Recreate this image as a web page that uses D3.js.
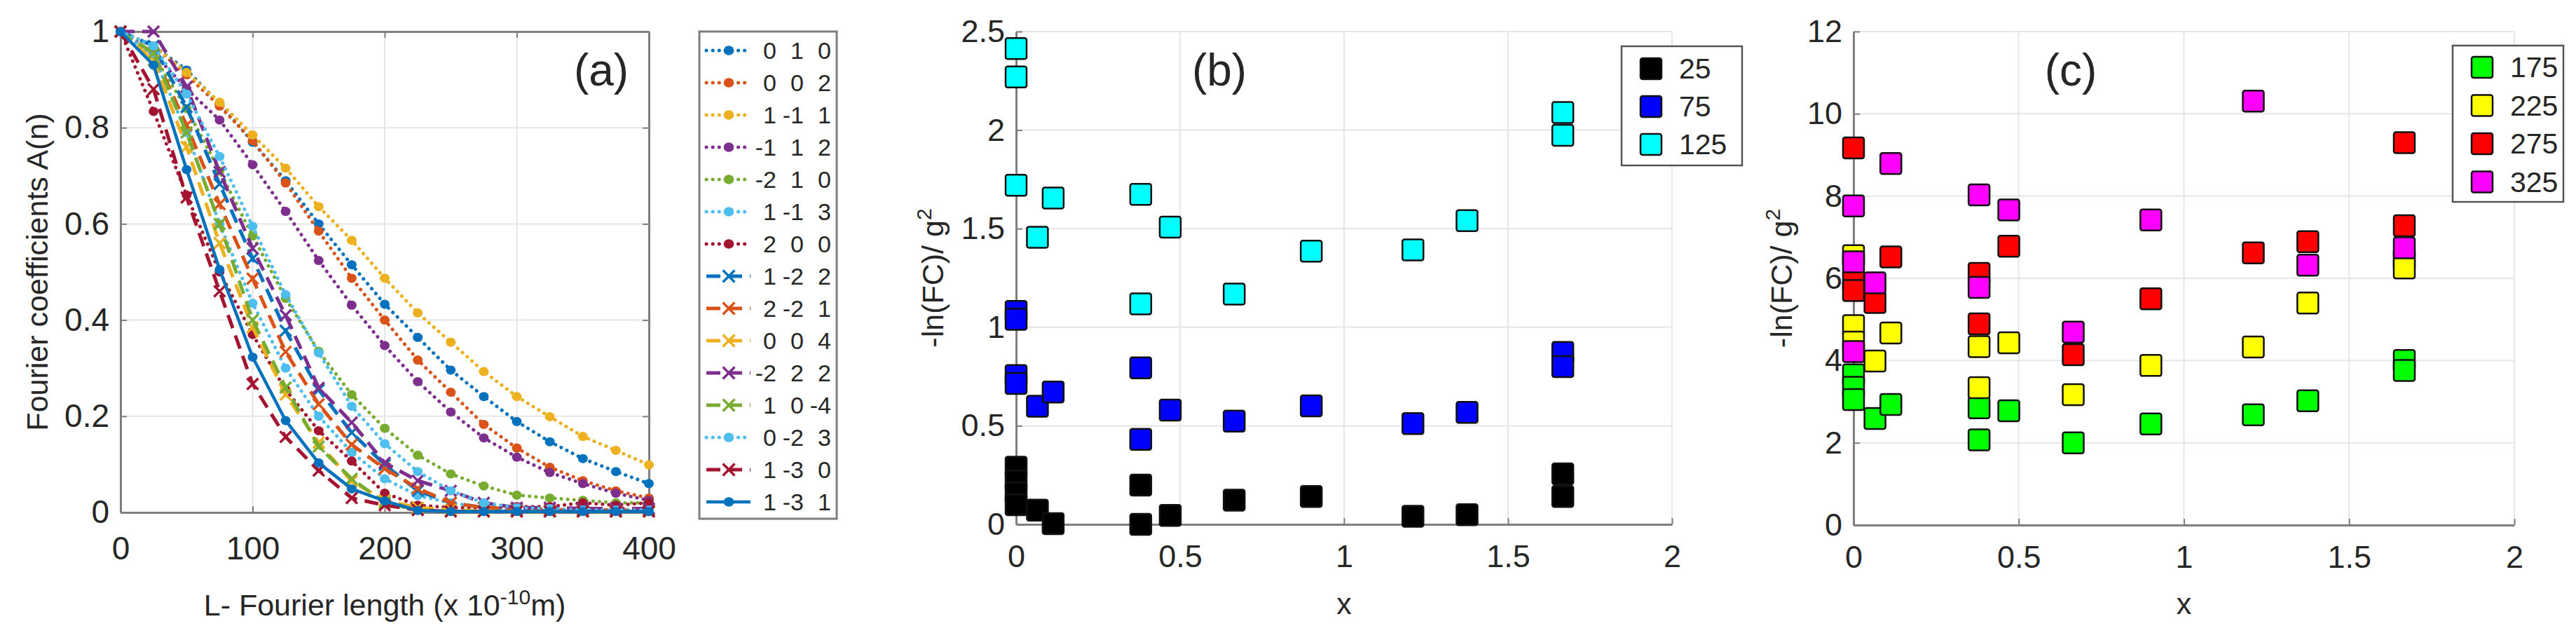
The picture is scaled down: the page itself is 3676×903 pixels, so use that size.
<!DOCTYPE html>
<html>
<head>
<meta charset="utf-8">
<script src="https://cdn.jsdelivr.net/npm/d3@7"></script>
<style>
  body { margin: 0; background: #fff; }
  svg { display: block; }
  text { font-family: "Liberation Sans", Arial, sans-serif; fill: #262626; }
</style>
</head>
<body>
<svg id="fig" width="3676" height="903"></svg>
<script>
// ---- panel (a): Fourier coefficients vs Fourier length ----
const fourierLength = [0, 25, 50, 75, 100, 125, 150, 175, 200, 225, 250, 275, 300, 325, 350, 375, 400];

const hklLabels = [
  ["0", "1", "0"], ["0", "0", "2"], ["1", "-1", "1"], ["-1", "1", "2"], ["-2", "1", "0"],
  ["1", "-1", "3"], ["2", "0", "0"], ["1", "-2", "2"], ["2", "-2", "1"], ["0", "0", "4"],
  ["-2", "2", "2"], ["1", "0", "-4"], ["0", "-2", "3"], ["1", "-3", "0"], ["1", "-3", "1"]
];

const coef010  = [1, 0.97, 0.92, 0.85, 0.77, 0.69, 0.60, 0.515, 0.433, 0.364, 0.296, 0.241, 0.189, 0.147, 0.112, 0.085, 0.060];
const coef002  = [1, 0.97, 0.91, 0.845, 0.773, 0.685, 0.585, 0.487, 0.40, 0.317, 0.25, 0.183, 0.134, 0.094, 0.066, 0.045, 0.03];
const coef1m11 = [1, 0.97, 0.915, 0.853, 0.785, 0.716, 0.636, 0.566, 0.487, 0.415, 0.354, 0.293, 0.241, 0.199, 0.158, 0.129, 0.099];
const coefm112 = [1, 0.955, 0.881, 0.816, 0.723, 0.626, 0.524, 0.431, 0.347, 0.272, 0.209, 0.155, 0.115, 0.083, 0.06, 0.04, 0.025];
const coefm210 = [1, 0.95, 0.84, 0.71, 0.575, 0.445, 0.335, 0.245, 0.175, 0.119, 0.08, 0.055, 0.036, 0.03, 0.025, 0.02, 0.02];
const coef1m13 = [1, 0.95, 0.79, 0.60, 0.435, 0.30, 0.20, 0.125, 0.07, 0.035, 0.02, 0.01, 0.005, 0.005, 0.003, 0.003, 0.003];
const coef200  = [1, 0.834, 0.66, 0.50, 0.37, 0.255, 0.17, 0.107, 0.04, 0.015, 0.01, 0.01, 0.012, 0.012, 0.02, 0.015, 0.02];
const coef1m22 = [1, 0.97, 0.843, 0.683, 0.528, 0.378, 0.255, 0.166, 0.099, 0.045, 0.02, 0.01, 0.005, 0.003, 0.002, 0.002, 0.002];
const coef2m21 = [1, 0.955, 0.805, 0.641, 0.486, 0.334, 0.225, 0.141, 0.091, 0.05, 0.02, 0.01, 0.008, 0.006, 0.005, 0.005, 0.005];
const coef004  = [1, 0.94, 0.76, 0.56, 0.385, 0.245, 0.145, 0.065, 0.025, 0.01, 0.005, 0.003, 0.002, 0.002, 0.002, 0.002, 0.002];
const coefm222 = [1, 1.0, 0.885, 0.708, 0.549, 0.41, 0.259, 0.187, 0.103, 0.066, 0.045, 0.02, 0.01, 0.01, 0.008, 0.008, 0.008];
const coef10m4 = [1, 0.955, 0.79, 0.60, 0.40, 0.26, 0.137, 0.07, 0.02, 0.005, 0.002, 0.002, 0.002, 0.002, 0.002, 0.002, 0.002];
const coef0m23 = [1, 0.97, 0.87, 0.74, 0.595, 0.453, 0.332, 0.221, 0.143, 0.085, 0.045, 0.02, 0.01, 0.008, 0.005, 0.005, 0.005];
const coef1m30 = [1, 0.88, 0.655, 0.46, 0.267, 0.157, 0.087, 0.03, 0.015, 0.005, 0.002, 0.002, 0.002, 0.002, 0.002, 0.002, 0.002];
const coef1m31 = [1, 0.93, 0.713, 0.505, 0.323, 0.191, 0.103, 0.049, 0.024, 0.004, 0.002, 0.002, 0.002, 0.002, 0.002, 0.002, 0.002];

const coefSeries = [coef010, coef002, coef1m11, coefm112, coefm210, coef1m13, coef200,
                    coef1m22, coef2m21, coef004, coefm222, coef10m4, coef0m23, coef1m30, coef1m31];
const lineKinds = ["dot", "dot", "dot", "dot", "dot", "dot", "dot",
                   "dash", "dash", "dash", "dash", "dash", "dot", "dash", "solid"];

const aTicksX = [0, 100, 200, 300, 400];
const aTicksY = [0, 0.2, 0.4, 0.6, 0.8, 1];

// ---- panels (b) and (c): -ln(FC)/g^2 vs x, pairs [x, value] ----
const b25  = [[0, 0.29], [0, 0.22], [0, 0.16], [0, 0.10], [0.065, 0.072], [0.113, 0.004], [0.38, 0.199], [0.38, 0.0],
              [0.47, 0.045], [0.665, 0.123], [0.9, 0.141], [1.21, 0.041], [1.375, 0.049], [1.667, 0.256], [1.667, 0.141]];
const b75  = [[0, 1.08], [0, 1.04], [0, 0.755], [0, 0.715], [0.065, 0.599], [0.113, 0.671], [0.38, 0.794], [0.38, 0.431],
              [0.47, 0.58], [0.665, 0.524], [0.9, 0.601], [1.21, 0.511], [1.375, 0.568], [1.667, 0.872], [1.667, 0.80]];
const b125 = [[0, 2.414], [0, 2.27], [0, 1.72], [0.065, 1.456], [0.113, 1.655], [0.38, 1.674], [0.38, 1.118],
              [0.47, 1.508], [0.665, 1.168], [0.9, 1.386], [1.21, 1.392], [1.375, 1.541], [1.667, 2.089], [1.667, 1.974]];
const bLabels = ["25", "75", "125"];
const bColors = ["#000000", "#0000ff", "#00ffff"];
const bTicksY = [0, 0.5, 1, 1.5, 2, 2.5];

const c175 = [[0, 3.65], [0, 3.35], [0, 3.05], [0.065, 2.59], [0.113, 2.93], [0.38, 2.85], [0.38, 2.07], [0.47, 2.78],
              [0.665, 2.0], [0.9, 2.46], [1.21, 2.68], [1.375, 3.02], [1.667, 4.0], [1.667, 3.76]];
const c225 = [[0, 6.55], [0, 4.85], [0, 4.45], [0.065, 3.99], [0.113, 4.67], [0.38, 4.34], [0.38, 3.34], [0.47, 4.43],
              [0.665, 3.17], [0.9, 3.88], [1.21, 4.33], [1.375, 5.40], [1.667, 6.45], [1.667, 6.25]];
const c275 = [[0, 9.17], [0, 5.95], [0, 5.7], [0.065, 5.41], [0.113, 6.52], [0.38, 6.12], [0.38, 4.89], [0.47, 6.78],
              [0.665, 4.14], [0.9, 5.50], [1.21, 6.62], [1.375, 6.89], [1.667, 9.30], [1.667, 7.28]];
const c325 = [[0, 7.76], [0, 6.4], [0, 4.22], [0.065, 5.89], [0.113, 8.79], [0.38, 8.03], [0.38, 5.78], [0.47, 7.66],
              [0.665, 4.69], [0.9, 7.42], [1.21, 10.31], [1.375, 6.32], [1.667, 6.74]];
const cLabels = ["175", "225", "275", "325"];
const cColors = ["#00ff00", "#ffff00", "#ff0000", "#ff00ff"];
const cTicksY = [0, 2, 4, 6, 8, 10, 12];

const xCompTicks = [0, 0.5, 1, 1.5, 2];

const matlabColors = ["#0072bd", "#d95319", "#edb120", "#7e2f8e", "#77ac30", "#4dbeee", "#a2142f"];

const svg = d3.select("#fig");
const axisGray = "#7f7f7f";
const gridGray = "#e6e6e6";

function drawFrame(box, x, y, xTicks, yTicks, opt) {
    const g = svg.append("g");
    g.append("g").selectAll("line").data(xTicks).join("line")
        .attr("x1", d => x(d)).attr("x2", d => x(d))
        .attr("y1", box.top).attr("y2", box.bottom)
        .attr("stroke", gridGray).attr("stroke-width", 2);
    g.append("g").selectAll("line").data(yTicks).join("line")
        .attr("x1", box.left).attr("x2", box.right)
        .attr("y1", d => y(d)).attr("y2", d => y(d))
        .attr("stroke", gridGray).attr("stroke-width", 2);

    g.append("g").attr("transform", `translate(0,${box.bottom})`)
        .call(d3.axisBottom(x).tickValues(xTicks).tickSize(-9).tickSizeOuter(0)
            .tickPadding(opt.xPad).tickFormat(d => String(d)));
    g.append("g").attr("transform", `translate(${box.left},0)`)
        .call(d3.axisLeft(y).tickValues(yTicks).tickSize(-9).tickSizeOuter(0)
            .tickPadding(opt.yPad).tickFormat(d => String(d)));
    if (opt.box) {
        g.append("g").attr("transform", `translate(0,${box.top})`)
            .call(d3.axisTop(x).tickValues(xTicks).tickSize(-9).tickSizeOuter(0).tickFormat(""));
        g.append("g").attr("transform", `translate(${box.right},0)`)
            .call(d3.axisRight(y).tickValues(yTicks).tickSize(-9).tickSizeOuter(0).tickFormat(""));
    }
    g.selectAll(".domain").attr("stroke", axisGray).attr("stroke-width", 3);
    g.selectAll(".tick line").attr("stroke", axisGray).attr("stroke-width", 2);
    g.selectAll(".tick text").attr("font-size", opt.font).attr("fill", "#262626")
        .style("font-family", "'Liberation Sans', Arial, sans-serif");
    return g;
}

function panelLabel(cx, text) {
    svg.append("text").attr("x", cx).attr("y", 122).attr("text-anchor", "middle")
        .attr("font-size", 64).attr("fill", "#111").text(text);
}

// ================= panel (a) =================
const boxA = { left: 172, right: 926, top: 45, bottom: 731 };
const xA = d3.scaleLinear().domain([0, 400]).range([boxA.left, boxA.right]);
const yA = d3.scaleLinear().domain([0, 1]).range([boxA.bottom, boxA.top]);
drawFrame(boxA, xA, yA, aTicksX, aTicksY, { box: true, xPad: 34, yPad: 16, font: 46 });

const dashOf = { dot: "0.1,9", dash: "20,11", solid: null };
const lineA = d3.line().x((d, i) => xA(fourierLength[i])).y(d => yA(d));

function drawMarker(g, kind, cx, cy, color, scale) {
    if (kind === "dash") {
        const s = 8 * scale;
        g.append("path")
            .attr("d", `M${cx - s},${cy - s}L${cx + s},${cy + s}M${cx - s},${cy + s}L${cx + s},${cy - s}`)
            .attr("stroke", color).attr("stroke-width", 3.5).attr("fill", "none");
    } else {
        g.append("ellipse").attr("cx", cx).attr("cy", cy)
            .attr("rx", 7 * scale).attr("ry", 6.5 * scale).attr("fill", color);
    }
}

const gA = svg.append("g");
coefSeries.forEach((vals, i) => {
    const color = matlabColors[i % 7];
    const kind = lineKinds[i];
    const path = gA.append("path").datum(vals)
        .attr("d", lineA).attr("fill", "none")
        .attr("stroke", color).attr("stroke-width", kind === "solid" ? 4.5 : 5)
        .attr("stroke-linecap", kind === "dot" ? "round" : "butt");
    if (dashOf[kind]) path.attr("stroke-dasharray", dashOf[kind]);
    vals.forEach((v, j) => drawMarker(gA, kind, xA(fourierLength[j]), yA(v), color, 1));
});

svg.append("text").attr("transform", `translate(${boxA.left - 104},${(boxA.top + boxA.bottom) / 2}) rotate(-90)`)
    .attr("text-anchor", "middle").attr("font-size", 43).attr("fill", "#262626")
    .text("Fourier coefficients A(n)");

const xLabA = svg.append("text").attr("x", (boxA.left + boxA.right) / 2).attr("y", 878)
    .attr("text-anchor", "middle").attr("font-size", 43).attr("fill", "#262626");
xLabA.append("tspan").text("L- Fourier length (x 10");
xLabA.append("tspan").attr("font-size", 30).attr("dy", -16).text("-10");
xLabA.append("tspan").attr("dy", 16).text("m)");

panelLabel(858, "(a)");

// legend (a)
const legA = svg.append("g");
legA.append("rect").attr("x", 998).attr("y", 45).attr("width", 196).attr("height", 695)
    .attr("fill", "#fff").attr("stroke", axisGray).attr("stroke-width", 3);
const colRight = [1108, 1147, 1186];
hklLabels.forEach((hkl, i) => {
    const yy = 72 + i * 46;
    const color = matlabColors[i % 7];
    const kind = lineKinds[i];
    const ln = legA.append("line").attr("x1", 1008).attr("x2", 1071).attr("y1", yy).attr("y2", yy)
        .attr("stroke", color).attr("stroke-width", kind === "solid" ? 4.5 : 5)
        .attr("stroke-linecap", kind === "dot" ? "round" : "butt");
    if (kind === "dot") ln.attr("stroke-dasharray", "0.1,9");
    if (kind === "dash") ln.attr("stroke-dasharray", "20,11");
    drawMarker(legA, kind, 1040, yy, color, 1.05);
    hkl.forEach((s, k) => {
        legA.append("text").attr("x", colRight[k]).attr("y", yy + 12)
            .attr("text-anchor", "end").attr("font-size", 34).attr("fill", "#111").text(s);
    });
});

// ================= scatter panels (b), (c) =================
function scatterPanel(box, yDomain, yTicks, seriesList, colors, labels, legBox, label, labelX, yLabX) {
    const x = d3.scaleLinear().domain([0, 2]).range([box.left, box.right]);
    const y = d3.scaleLinear().domain(yDomain).range([box.bottom, box.top]);
    drawFrame(box, x, y, xCompTicks, yTicks, { box: false, xPad: 29, yPad: 16, font: 45 });

    const g = svg.append("g");
    seriesList.forEach((pts, i) => {
        g.selectAll(null).data(pts).join("rect")
            .attr("x", d => x(d[0]) - 15).attr("y", d => y(d[1]) - 15)
            .attr("width", 30).attr("height", 30).attr("rx", 3)
            .attr("fill", colors[i]).attr("stroke", "#111").attr("stroke-width", 2.5);
    });

    panelLabel(labelX, label);

    const yl = svg.append("text")
        .attr("transform", `translate(${yLabX},${(box.top + box.bottom) / 2}) rotate(-90)`)
        .attr("text-anchor", "middle").attr("font-size", 43).attr("fill", "#262626");
    yl.append("tspan").text("-ln(FC)/ g");
    yl.append("tspan").attr("font-size", 30).attr("dy", -17).text("2");

    svg.append("text").attr("x", (box.left + box.right) / 2).attr("y", 876)
        .attr("text-anchor", "middle").attr("font-size", 43).attr("fill", "#262626").text("x");

    const lg = svg.append("g");
    lg.append("rect").attr("x", legBox.left).attr("y", legBox.top)
        .attr("width", legBox.width).attr("height", legBox.height)
        .attr("fill", "#fff").attr("stroke", "#555").attr("stroke-width", 2.5);
    labels.forEach((s, i) => {
        const yy = legBox.firstRow + i * legBox.step;
        lg.append("rect").attr("x", legBox.left + 27).attr("y", yy - 15)
            .attr("width", 30).attr("height", 30).attr("rx", 3)
            .attr("fill", colors[i]).attr("stroke", "#111").attr("stroke-width", 2.5);
        lg.append("text").attr("x", legBox.left + 82).attr("y", yy + 14)
            .attr("font-size", 41).attr("fill", "#111").text(s);
    });
}

scatterPanel({ left: 1450, right: 2386, top: 45, bottom: 748 }, [0, 2.5], bTicksY,
    [b25, b75, b125], bColors, bLabels,
    { left: 2314, top: 66, width: 172, height: 170, firstRow: 98, step: 54 },
    "(b)", 1740, 1346);

scatterPanel({ left: 2645, right: 3588, top: 45, bottom: 749 }, [0, 12], cTicksY,
    [c175, c225, c275, c325], cColors, cLabels,
    { left: 3500, top: 65, width: 158, height: 223, firstRow: 96, step: 54.5 },
    "(c)", 2955, 2557);
</script>
</body>
</html>
